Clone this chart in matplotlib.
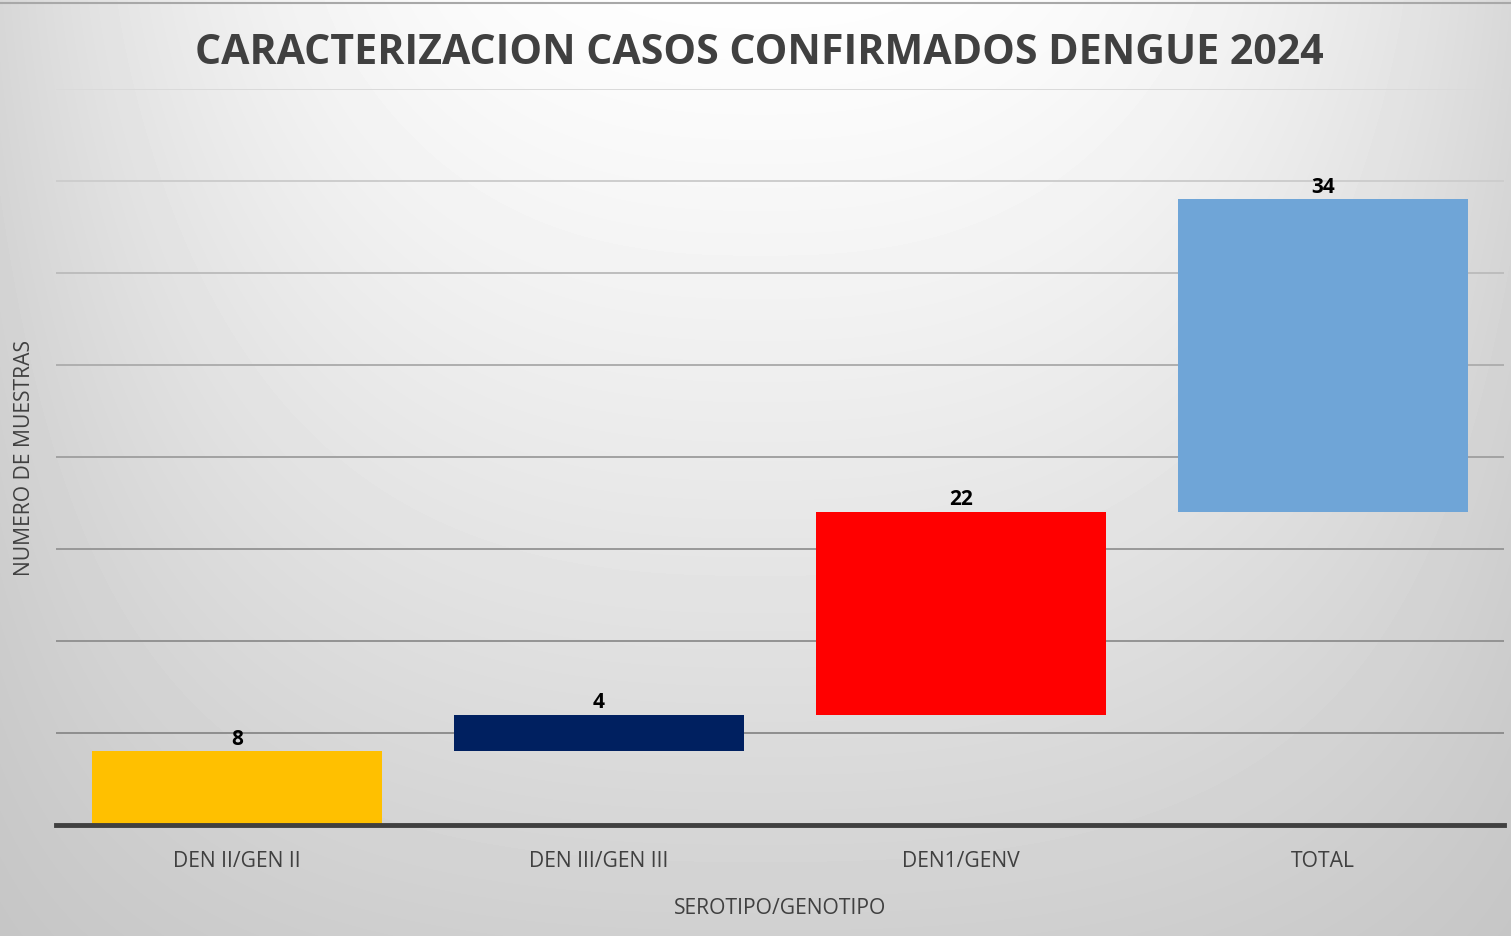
import numpy as np
import matplotlib
matplotlib.use("Agg")
import matplotlib.pyplot as plt
from matplotlib.lines import Line2D

categories = ["DEN II/GEN II", "DEN III/GEN III", "DEN1/GENV", "TOTAL"]
values = [8, 4, 22, 34]
colors = ["#FFC000", "#002060", "#FF0000", "#6FA5D7"]

W, H = 1511, 937
fig = plt.figure(figsize=(W / 100, H / 100), dpi=100)

# gradient background
bg = fig.add_axes([0, 0, 1, 1], zorder=0)
yy, xx = np.mgrid[0:H, 0:W]
nx = (np.abs(xx - 760) / 755.0) ** 2.5
ny = (yy / 937.0) ** 1.2
g = np.clip(0.995 - 0.15 * nx - 0.18 * ny + 0.11 * nx * ny, 0, 1)
bg.imshow(g, cmap="gray", vmin=0, vmax=1, aspect="auto", extent=[0, W, H, 0])
bg.axis("off")
fig.add_artist(Line2D([0, 1], [1 - 4 / H, 1 - 4 / H], transform=fig.transFigure,
                      color="#a8a8a8", linewidth=1.5))

fam = ["Open Sans", "DejaVu Sans"]

ax = fig.add_axes([56 / W, 1 - 826 / H, (1504 - 56) / W, (826 - 90) / H], zorder=1)
ax.patch.set_alpha(0)

bottoms = np.concatenate([[0], np.cumsum(values)[:-1]])
x = np.arange(len(categories))
ax.bar(x, values, bottom=bottoms, width=0.8, color=colors, zorder=3)
for xi, b, v in zip(x, bottoms, values):
    ax.text(xi, b + v + 0.3, str(v), ha="center", va="bottom", fontsize=15,
            fontweight="bold", family=fam, color="black", zorder=4)

ax.set_xlim(-0.5, 3.5)
ax.set_ylim(0, 80)
ax.set_yticks(np.arange(10, 81, 10))
ax.yaxis.grid(True, linewidth=1.4, zorder=1)
grid_shades = ["#8e8e8e", "#939393", "#989898", "#a2a2a2", "#aeaeae", "#bdbdbd", "#cdcdcd", "#dadada"]
for gl, c in zip(ax.get_ygridlines(), grid_shades):
    gl.set_color(c)
ax.tick_params(axis="y", length=0, labelleft=False)
ax.tick_params(axis="x", length=0, pad=18)
ax.set_xticks(x)
ax.set_xticklabels(categories, fontsize=15.2, family=fam, color="#404040")
for s in ["top", "right", "left"]:
    ax.spines[s].set_visible(False)
ax.spines["bottom"].set_color("#404040")
ax.spines["bottom"].set_linewidth(3.5)
ax.spines["bottom"].set_zorder(5)

ax.set_xlabel("SEROTIPO/GENOTIPO", fontsize=15.2, family=fam, color="#404040", labelpad=19)
fig.text(25 / W, 1 - 458 / H, "NUMERO DE MUESTRAS", rotation=90, ha="center", va="center",
         fontsize=15.2, family=fam, color="#404040")

fig.text(759 / W, 1 - 54 / H, "CARACTERIZACION CASOS CONFIRMADOS DENGUE 2024",
         ha="center", va="center", fontsize=29.6, fontweight="bold", family=fam, color="#404040")

fig.savefig("out.png", dpi=100)
